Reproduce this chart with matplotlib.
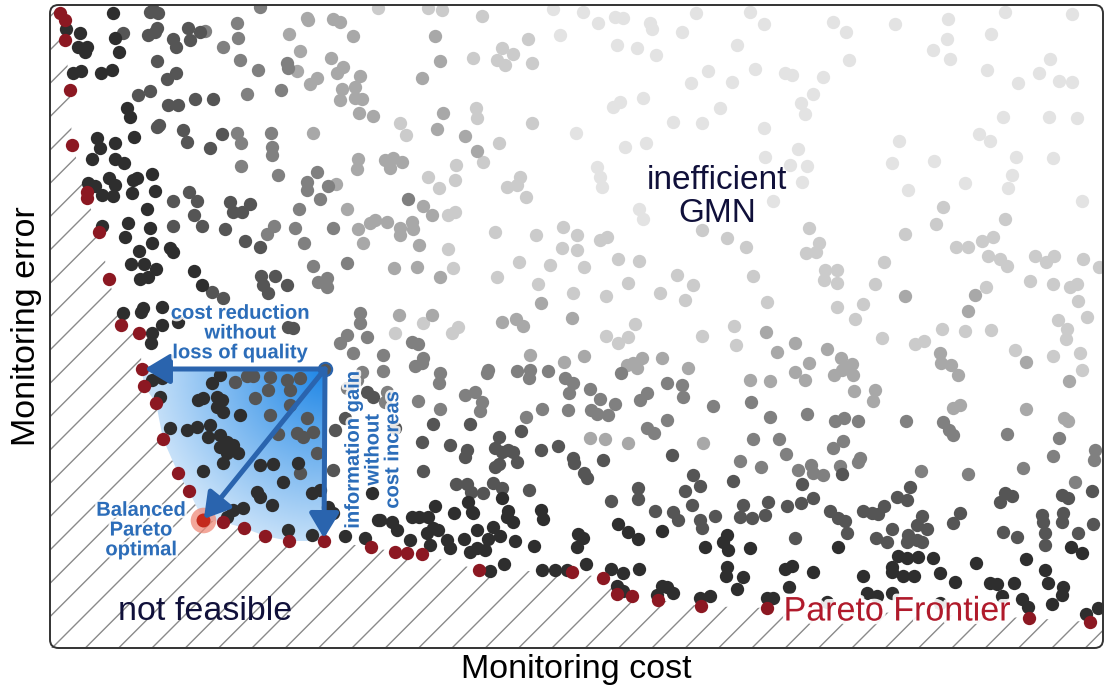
import numpy as np
import matplotlib
matplotlib.use('Agg')
import matplotlib.pyplot as plt
from matplotlib import patheffects as pe
from matplotlib.colors import LinearSegmentedColormap
from matplotlib.patches import FancyBboxPatch, Polygon

plt.rcParams['font.family'] = ['Liberation Sans', 'DejaVu Sans']
plt.rcParams['hatch.linewidth'] = 1.0

# candidate networks as (monitoring cost, monitoring error), grouped by
# how far they sit from the frontier (band1 = closest)
band1 = [
    (63,635),(16,619),(30,615),(28,601),(37,601),(35,596),(65,610),(69,596),(23,575),(31,577),
    (51,575),(62,578),(77,540),(80,531),(84,511),(47,510),(50,500),(65,505),(42,489),(65,489),
    (74,485),(102,474),(38,465),(45,462),(59,470),(65,463),(63,452),(52,453),(83,468),(87,470),
    (82,455),(105,457),(97,439),(78,425),(75,411),(52,422),(100,420),(102,405),(120,400),(123,396),
    (81,384),(94,384),(89,397),(90,369),(98,371),(106,379),(144,377),(152,363),
    (73,335),(91,336),(93,340),(112,341),(102,315),(112,323),(101,305),(128,326),(102,268),(112,270),
    (110,251),(162,265),(170,273),(148,248),(153,250),(167,251),(172,248),(167,241),(173,236),(190,233),
    (120,220),(137,218),(147,221),(160,223),(158,211),(170,213),(177,206),(183,203),(188,195),(170,201),
    (177,195),(173,185),(210,183),(223,184),(248,185),(153,177),(233,166),(207,156),(210,151),(222,143),
    (183,138),(193,140),(177,131),(262,155),(270,158),(238,118),(262,113),(278,141),(283,135),(295,112),
    (315,110),(322,155),(328,128),
    (330,128),(342,126),(347,118),(362,131),(369,131),(378,131),(383,120),(388,118),(377,115),(385,142),
    (404,135),(418,146),(422,136),(423,135),(458,137),(457,131),(463,126),(443,121),(450,112),(427,118),
    (438,109),(414,109),(397,108),(400,100),(360,108),(380,103),(420,96),(427,100),(435,98),(465,107),
    (484,102),(491,138),(493,129),(528,114),(533,110),(527,101),(568,124),(578,116),(588,109),(612,117),
    (655,101),(677,113),(673,106),(678,98),(440,77),(454,84),(492,78),(505,78),(517,78),(536,84),
    (561,79),(573,75),(589,79),(567,62),(573,57),(612,62),(617,61),(623,55),(607,53),(650,50),
    (660,52),(677,81),(676,72),(687,59),(452,150),
    (700,100),(788,101),(1021,101),(1032,95),(976,89),(848,92),(857,90),(868,91),(883,90),(842,81),
    (842,76),(853,72),(864,72),(926,85),(890,75),(905,66),(735,79),(742,82),(763,76),(693,71),
    (739,61),(813,72),(842,55),(817,55),(827,52),(940,65),(947,64),(964,65),(952,52),(972,49),
    (978,41),(995,78),(998,65),(1013,61),(1012,53),(1002,44),(1048,40),(1036,34),(717,50),(723,50),
    (777,46),(890,45),
]
band2 = [
    (103,638),(108,635),(100,636),(73,615),(98,613),(105,616),(107,620),(123,609),(126,601),(138,620),
    (140,608),(150,616),(107,587),(117,569),(126,575),(88,553),(100,557),(118,543),(128,543),(145,549),
    (163,549),(107,521),(109,523),(133,518),(137,506),(172,514),(160,500),(123,422),(123,447),(139,456),
    (147,447),(144,433),(152,422),(175,419),(180,446),(183,436),(192,436),(200,444),(195,407),(210,401),
    (211,372),(213,363),(225,372),(237,363),(218,355),(173,350),(162,356),
    (238,321),(243,320),(185,266),(197,272),(203,272),(220,271),(237,268),(240,258),(218,258),(250,270),
    (205,250),(220,233),(240,243),(257,230),(228,214),(247,215),(253,211),(263,216),(267,195),(250,175),
    (285,218),(295,230),(317,256),(323,251),(283,178),
    (383,224),(420,224),(345,220),(372,206),(400,203),(417,198),(415,191),(449,211),(471,217),(445,200),
    (452,196),(458,198),(463,196),(467,186),(445,181),(449,184),(491,198),(508,202),(523,190),(524,185),
    (553,188),(622,193),(373,177),(406,164),(417,164),(421,156),(433,155),(443,165),(452,160),(479,158),
    (534,175),(537,170),(561,147),(588,160),(588,149),(643,173),(635,157),(650,162),(683,167),(605,137),
    (623,136),(628,128),(642,143),(650,128),(652,120),(665,132),
    (752,164),(860,161),(847,151),(857,148),(763,150),(737,142),(751,145),(718,146),(693,143),(702,130),
    (715,133),(690,131),(780,137),(788,130),(795,127),(797,115),(813,137),(822,135),(828,134),(834,142),
    (842,119),(872,132),(867,123),(877,119),(858,113),(867,108),(872,106),(857,106),(826,110),(837,106),
    (910,135),(903,125),(745,110),(950,146),(955,155),(962,152),(953,116),(967,111),(992,133),(993,126),
    (995,115),(995,103),(1012,153),(1018,150),(1013,135),(1012,126),(1042,157),(1043,124),(1028,115),(792,174),
]
band3 = [
    (187,625),(188,610),(190,588),(173,601),(208,578),(197,554),(231,558),(237,585),(238,580),(187,515),
    (191,505),(221,515),(222,501),(222,493),(191,482),(228,473),(257,466),(257,458),(267,476),(278,462),
    (270,449),(249,439),(224,422),(217,414),(245,420),(254,405),(283,420),(263,382),(297,385),(268,366),
    (277,370),(277,361),(210,641),(155,617),
    (297,260),(310,335),(310,325),(290,305),(297,313),(303,295),(317,311),(312,276),(307,268),(358,449),
    (362,306),(368,304),(333,293),(365,282),(372,285),(373,290),(333,277),(390,275),(389,265),(438,278),
    (437,275),(467,277),(480,278),(479,270),(498,277),(515,270),(523,265),(519,255),(540,259),(550,249),
    (565,244),(541,238),(547,234),(558,233),(518,238),(571,275),(617,265),(632,263),(633,251),(597,255),
    (590,248),(663,242),(337,256),(335,246),(368,247),(390,239),(415,253),(425,256),(432,246),(430,237),
    (492,239),(476,231),(617,228),(597,220),(604,215),
    (701,246),(720,231),(757,234),(785,227),(794,230),(808,227),(856,227),(893,226),(703,209),(729,209),
    (736,194),(783,200),(793,207),(810,190),(808,186),(690,187),(711,181),(748,178),(761,183),(763,175),
    (773,173),(790,182),(899,218),(903,213),(957,214),(1009,210),(1003,192),(1045,198),(1044,188),(871,177),
    (918,174),(973,180),(1025,166),
]
band4 = [
    (239,614),(250,597),(247,577),(260,564),(267,570),(257,630),(258,628),(283,629),(290,626),(281,590),
    (287,575),(293,581),(303,612),(310,572),(292,559),(290,548),(305,561),(305,550),(312,549),(309,535),
    (323,532),(263,515),(308,489),(307,479),(286,464),(297,439),(308,419),(320,425),(325,428),(313,405),
    (385,612),(390,587),(372,570),(393,535),(387,519),(415,512),(427,497),(335,488),(343,490),(352,486),
    (340,480),(373,442),(382,433),(337,426),(350,420),(350,413),(362,426),(363,419),(369,403),(344,380),
    (367,381),(390,371),(491,345),(349,333),(382,333),(466,329),(522,330),
    (452,326),(473,322),(480,293),(514,286),(534,292),(577,283),(583,285),(587,280),(592,290),(612,290),
    (638,280),(540,210),(555,209),(578,205),(653,205),(855,352),(925,353),(918,337),
    (716,316),(727,296),(745,305),(777,299),(791,290),(798,280),(802,284),(803,273),(784,273),(792,278),
    (700,268),(720,267),(745,276),(755,268),(759,285),(804,257),(825,258),(823,247),(890,295),(891,285),
    (901,283),(908,273),(976,286),(1019,267),(903,240),(910,243),(976,239),(1014,230),(1018,227),
]
band5 = [
    (328,640),(378,640),(392,638),(432,632),(423,590),(452,600),(447,588),(455,583),(463,594),(478,609),
    (482,585),(482,525),(426,540),(427,530),(449,505),(433,486),(350,525),(356,513),(406,483),(405,468),
    (378,471),(389,460),(398,433),(405,436),(457,461),(470,471),(467,463),(476,451),(652,418),(677,410),
    (398,399),(445,416),(486,413),(513,421),(527,413),(512,400),(527,398),(550,408),(557,411),(403,380),
    (447,371),(469,386),(500,383),(488,364),(534,381),(523,355),(556,352),(568,389),(589,387),(578,365),
    (610,355),(627,373),(643,363),(635,348),
    (345,315),(373,325),(402,315),(408,321),(556,312),(568,305),(578,311),(585,324),(652,312),(686,303),
    (684,322),
    (696,401),(759,420),(769,405),(766,396),(756,395),(703,372),(775,378),(787,378),(774,368),(787,365),
    (834,386),(825,364),(855,414),(893,441),(886,424),(906,401),(918,401),(932,407),(943,411),(938,392),
    (950,389),(957,382),(955,429),(985,392),(996,386),(1004,392),(1033,389),(1049,381),(980,367),(1003,364),
    (1020,361),(1027,364),(1028,347),(936,361),(717,346),(787,341),(813,344),(805,329),(1008,328),(1037,331),
    (832,310),(865,304),(874,307),(892,319),(915,317),(941,318),(965,298),(1003,292),(1017,319),(1016,309),
    (1030,295),(1032,278),
]
band6 = [
    (503,639),(510,613),(533,636),(548,625),(565,631),(573,630),(600,625),(602,619),(632,616),(646,635),
    (567,603),(587,600),(606,593),(687,603),(658,577),(641,565),(682,566),(670,540),(563,541),(570,546),
    (593,550),(623,526),(652,525),(575,501),(596,505),(526,515),(547,481),(550,471),(552,461),(589,439),
    (593,429),
    (700,636),(714,624),(783,626),(796,616),(845,624),(799,588),(705,579),(735,575),(742,573),(773,571),
    (763,554),(751,545),(755,534),(898,629),(897,609),(883,598),(900,589),(941,614),(955,636),(1022,634),
    (937,578),(968,565),(989,575),(1000,589),(1009,567),(1022,566),(953,531),(999,531),(1027,530),(714,520),
    (849,507),(929,514),(940,507),(748,499),(757,482),(740,483),(752,466),(715,491),(842,485),(884,487),
    (966,491),(962,473),(958,460),(1003,490),(858,458),(915,465),(1032,447),(723,447),
]
bands = [band1, band2, band3, band4, band5, band6]
band_colors = ['#2e2e2e', '#555555', '#808080', '#a8a8a8', '#cbcbcb', '#e3e3e3']

# non-dominated designs
frontier = [
    (10,635),(15,628),(15,608),(20,558),(22,503),(37,456),(37,450),(49,416),(59,369),(71,323),
    (89,315),(92,279),(94,262),(106,245),(113,209),(128,175),(139,157),(153,128),(173,126),(194,120),
    (215,112),(239,107),(274,107),(321,101),(345,96),(357,95),(372,94),(429,78),(522,76),(553,70),
    (567,54),(582,52),(608,48),(651,42),(717,40),(979,30),(1040,26),
]
example = (275, 279)
balanced = (153, 128)

XMAX, YMAX = 1053, 643
arrow_c = '#2a64ae'
text_blue = '#2c6db9'
navy = '#10103a'
red = '#8c1822'
dot = 92

fig = plt.figure(figsize=(11.08, 6.88), dpi=100)
ax = fig.add_axes([50 / 1108, 40 / 688, 1053 / 1108, 643 / 688])

fr = np.array(frontier, dtype=float)

# infeasible area below the frontier
hatch_poly = np.vstack([[0, YMAX], fr, [XMAX, fr[-1, 1]], [XMAX, 0], [0, 0]])
ax.add_patch(Polygon(hatch_poly, closed=True, facecolor='none', edgecolor='#8a8a8a',
                     hatch='/', linewidth=0, zorder=0))

# shaded improvement zone between the example design and the frontier
ex, ey = example
i_left = int(np.argmin(np.abs(fr[:, 1] - ey) + (fr[:, 0] > ex) * 1e6))
i_down = int(np.argmin(np.abs(fr[:, 0] - ex)))
zone = np.vstack([[ex, ey], fr[i_left:i_down + 1]])
x0, x1 = zone[:, 0].min() - 5, zone[:, 0].max() + 5
y0, y1 = zone[:, 1].min() - 5, zone[:, 1].max() + 5
gx, gy = np.meshgrid(np.linspace(x0, x1, 300), np.linspace(y0, y1, 300))
shade = np.clip(1 - np.hypot(gx - ex, gy - ey) / 235, 0, 1)
blues = LinearSegmentedColormap.from_list('zone', ['#ffffff', '#1e86e6'])
im = ax.imshow(shade, extent=(x0, x1, y0, y1), origin='lower', cmap=blues,
               vmin=0, vmax=1, aspect='auto', interpolation='bilinear', zorder=1)
clip = Polygon(zone, closed=True, facecolor='none', edgecolor='none', transform=ax.transData)
ax.add_patch(clip)
im.set_clip_path(clip)

for pts, col in zip(bands[::-1], band_colors[::-1]):
    p = np.array(pts)
    ax.scatter(p[:, 0], p[:, 1], s=dot, color=col, linewidths=0, zorder=2)

ax.scatter(fr[:, 0], fr[:, 1], s=dot, color=red, linewidths=0, zorder=3)
ax.scatter([balanced[0]], [balanced[1]], s=340, color='#f08a78', alpha=0.75, linewidths=0, zorder=3)
ax.scatter([balanced[0]], [balanced[1]], s=100, color='#c42a1c', linewidths=0, zorder=4)
ax.scatter([ex], [ey], s=dot, color='#555555', edgecolors=arrow_c, linewidths=1.5, zorder=5)

# arrows from the example design towards the frontier
astyle = '-|>,head_length=0.5,head_width=0.3'
for target, shrink in [(fr[i_left], 2), (fr[i_down], 2), (balanced, 1)]:
    ax.annotate('', xy=target, xytext=example,
                arrowprops=dict(arrowstyle=astyle, color=arrow_c, lw=3.6,
                                mutation_scale=30, shrinkA=0, shrinkB=shrink),
                zorder=6)

halo = [pe.withStroke(linewidth=3.5, foreground='white', alpha=0.85)]
ax.text(190, 315, 'cost reduction\nwithout\nloss of quality', ha='center', va='center',
        fontsize=14.5, fontweight='bold', color=text_blue, linespacing=1.05,
        path_effects=halo, zorder=7)
ax.text(323, 198, 'information gain\nwithout\ncost increas', ha='center', va='center',
        rotation=90, fontsize=14.5, fontweight='bold', color=text_blue, linespacing=1.05,
        path_effects=halo, zorder=7)
ax.text(91, 118, 'Balanced\nPareto\noptimal', ha='center', va='center',
        fontsize=14.5, fontweight='bold', color=text_blue, linespacing=1.05,
        path_effects=halo, zorder=7)
ax.text(667, 451, 'inefficient\nGMN', ha='center', va='center', fontsize=24,
        color=navy, linespacing=1.05, zorder=7)
ax.text(155, 36, 'not feasible', ha='center', va='center', fontsize=24.5,
        color=navy, zorder=7)
ax.text(847, 36, 'Pareto Frontier', ha='center', va='center', fontsize=24.5,
        color='#b01a2b', zorder=7,
        path_effects=[pe.withStroke(linewidth=5, foreground='white', alpha=0.9)])

ax.set_xlim(0, XMAX)
ax.set_ylim(0, YMAX)
ax.set_xticks([])
ax.set_yticks([])
for sp in ax.spines.values():
    sp.set_visible(False)
ax.add_patch(FancyBboxPatch((0, 0), 1, 1, boxstyle='round,pad=0,rounding_size=0.008',
                            mutation_aspect=XMAX / YMAX, transform=ax.transAxes,
                            facecolor='none', edgecolor='#333333', linewidth=1.4,
                            clip_on=False, zorder=8))

ax.set_xlabel('Monitoring cost', fontsize=24.5, labelpad=4)
ax.set_ylabel('Monitoring error', fontsize=24.5, labelpad=6)

fig.savefig('out.png', dpi=100)
